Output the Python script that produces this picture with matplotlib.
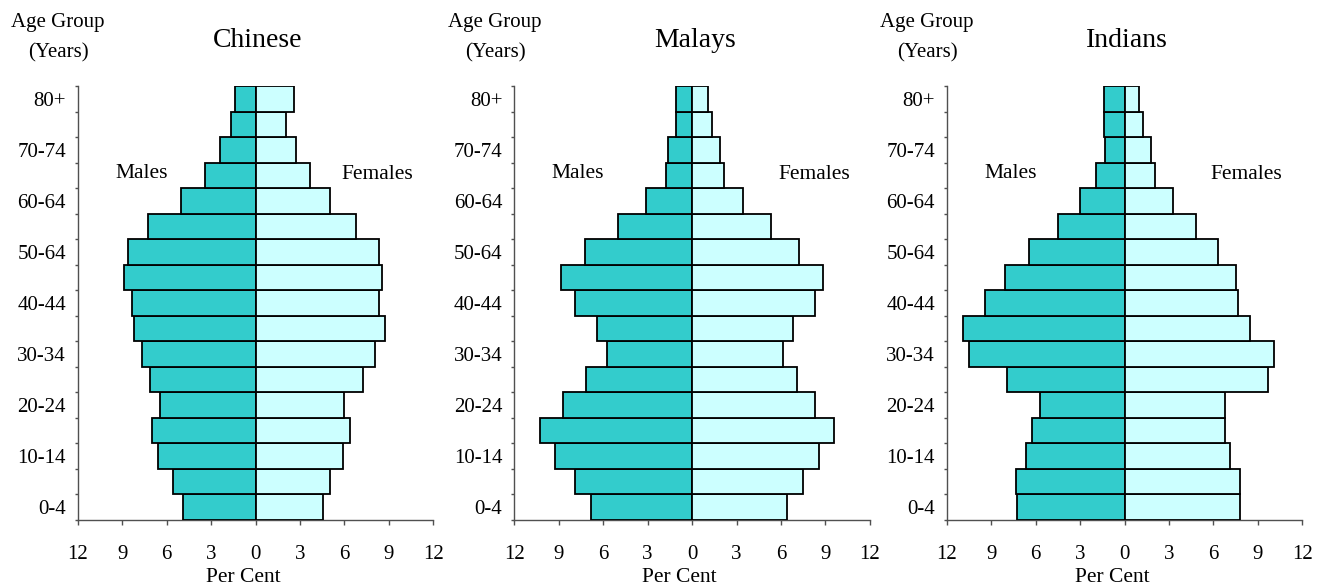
import matplotlib
matplotlib.use("Agg")
import matplotlib.pyplot as plt
from matplotlib.transforms import blended_transform_factory
import numpy as np

plt.rcParams['font.family'] = ['Liberation Serif', 'DejaVu Serif']

age_groups = ['0-4', '5-9', '10-14', '15-19', '20-24', '25-29', '30-34', '35-39',
              '40-44', '45-49', '50-54', '55-59', '60-64', '65-69', '70-74', '75-79', '80+']
tick_labels = ['0-4', '10-14', '20-24', '30-34', '40-44', '50-64', '60-64', '70-74', '80+']
titles = ['Chinese', 'Malays', 'Indians']

chinese_males = [4.91, 5.56, 6.55, 6.96, 6.42, 7.09, 7.66, 8.2, 8.33, 8.87, 8.6, 7.23, 5.04, 3.4, 2.41, 1.62, 1.35]
chinese_females = [4.53, 5.04, 5.88, 6.4, 5.99, 7.23, 8.04, 8.74, 8.31, 8.56, 8.31, 6.8, 5.04, 3.67, 2.72, 2.03, 2.6]
malays_males = [6.85, 7.88, 9.28, 10.25, 8.74, 7.18, 5.72, 6.42, 7.88, 8.87, 7.2, 5.02, 3.13, 1.78, 1.62, 1.08, 1.08]
malays_females = [6.4, 7.48, 8.58, 9.55, 8.31, 7.09, 6.13, 6.82, 8.31, 8.85, 7.23, 5.32, 3.42, 2.18, 1.89, 1.33, 1.1]
indians_males = [7.23, 7.34, 6.67, 6.26, 5.7, 7.9, 10.5, 10.92, 9.41, 8.04, 6.42, 4.48, 2.97, 1.91, 1.33, 1.37, 1.37]
indians_females = [7.77, 7.77, 7.09, 6.8, 6.8, 9.68, 10.11, 8.49, 7.64, 7.5, 6.28, 4.8, 3.27, 2.03, 1.76, 1.22, 0.97]

males = [chinese_males, malays_males, indians_males]
females = [chinese_females, malays_females, indians_females]
x_ticks = [-12, -9, -6, -3, 0, 3, 6, 9, 12]

W, H = 1326, 587
fig = plt.figure(figsize=(W / 100, H / 100), dpi=100)

lefts_px = [77.7, 514.3, 946.7]
ax_w_px = 355.6
ax_top_px, ax_bot_px = 86, 520

male_color = '#33CCCC'
female_color = '#CCFFFF'
spine_color = '#505050'

for i in range(3):
    ax = fig.add_axes([lefts_px[i] / W, (H - ax_bot_px) / H, ax_w_px / W, (ax_bot_px - ax_top_px) / H])
    y = np.arange(len(age_groups))
    ax.barh(y, -np.array(males[i]), height=1.0, color=male_color, edgecolor='black', linewidth=1.3, zorder=3)
    ax.barh(y, np.array(females[i]), height=1.0, color=female_color, edgecolor='black', linewidth=1.3, zorder=3)
    ax.set_xlim(-12, 12)
    ax.set_ylim(-0.5, len(age_groups) - 0.5)
    for s in ['top', 'right']:
        ax.spines[s].set_visible(False)
    for s in ['left', 'bottom']:
        ax.spines[s].set_color(spine_color)
        ax.spines[s].set_linewidth(1.0)
    ax.set_xticks(x_ticks)
    ax.set_xticklabels([str(abs(v)) for v in x_ticks], fontsize=15)
    ax.tick_params(axis='x', direction='out', length=3.6, width=1, color=spine_color, pad=14.5)
    ax.set_yticks(np.arange(0, len(age_groups), 2))
    ax.set_yticklabels(tick_labels, fontsize=15)
    ax.tick_params(axis='y', which='major', length=0, pad=8.5)
    ax.set_yticks(np.arange(-0.5, len(age_groups), 1.0), minor=True)
    ax.tick_params(axis='y', which='minor', direction='out', length=2.5, width=1, color=spine_color)

    ax.text(-7.7, 12.9, 'Males', fontsize=15.5, ha='center', va='baseline')
    ax.text(8.25, 12.85, 'Females', fontsize=15.5, ha='center', va='baseline')

    tr = blended_transform_factory(ax.transData, fig.transFigure)
    ax.text(-0.85, 1 - 581.5 / H, 'Per Cent', fontsize=15.5, ha='center', va='baseline', transform=tr)

    cx = (lefts_px[i] + ax_w_px / 2 + 2.5) / W
    fig.text(cx, 1 - 47 / H, titles[i], fontsize=20, ha='center', va='baseline')
    ax_x = (lefts_px[i] - 20) / W
    fig.text(ax_x, 1 - 27 / H, 'Age Group', fontsize=15, ha='center', va='baseline')
    fig.text(ax_x + 1 / W, 1 - 57 / H, '(Years)', fontsize=15, ha='center', va='baseline')

fig.savefig('out.png', dpi=100)
